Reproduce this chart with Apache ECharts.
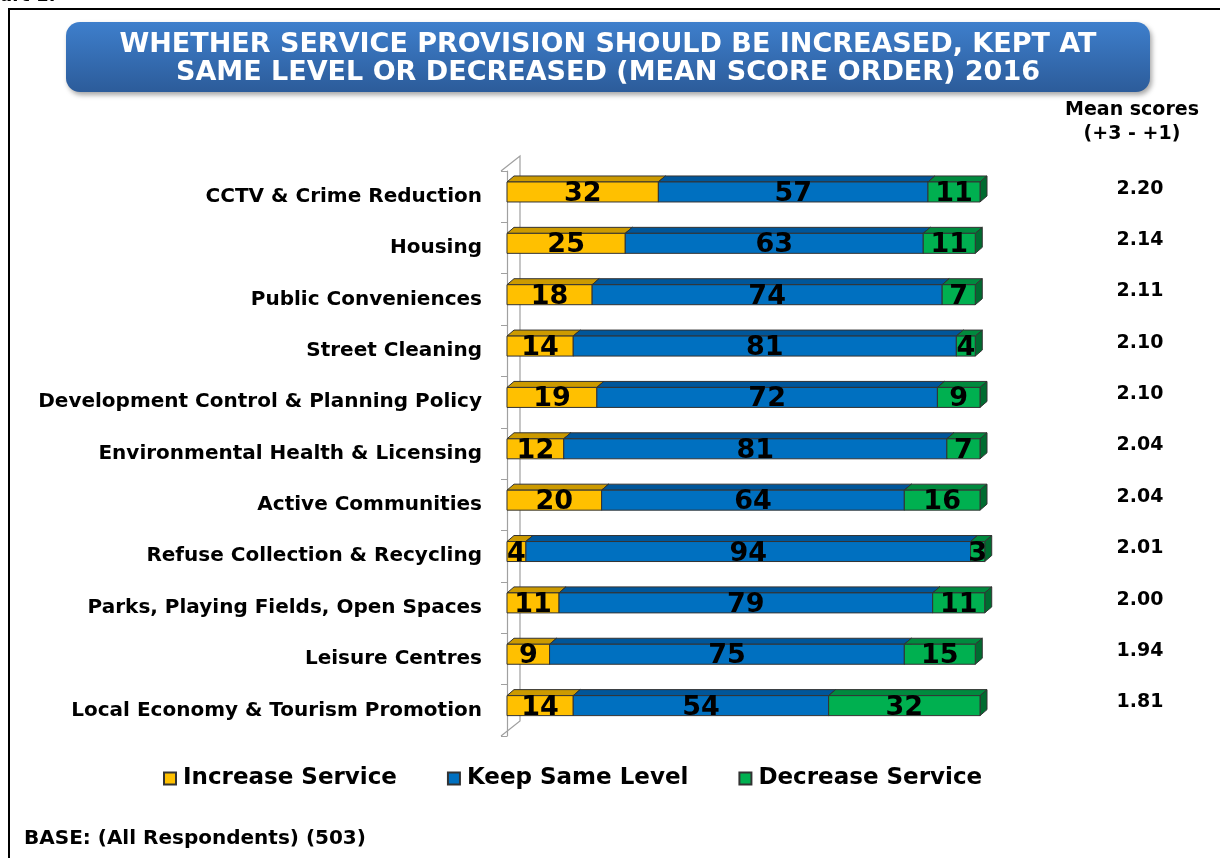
<!DOCTYPE html>
<html>
<head>
<meta charset="utf-8">
<script src="https://cdn.jsdelivr.net/npm/echarts@6/dist/echarts.min.js"></script>
<style>
  html, body { margin: 0; padding: 0; background: #ffffff; }
  #chart { width: 1220px; height: 858px; }
</style>
</head>
<body>
<div id="chart"></div>
<script>
// Services, top to bottom in mean score order
const categories = [
  'CCTV & Crime Reduction',
  'Housing',
  'Public Conveniences',
  'Street Cleaning',
  'Development Control & Planning Policy',
  'Environmental Health & Licensing',
  'Active Communities',
  'Refuse Collection & Recycling',
  'Parks, Playing Fields, Open Spaces',
  'Leisure Centres',
  'Local Economy & Tourism Promotion'
];
// Percentages per response
const increaseService = [32, 25, 18, 14, 19, 12, 20, 4, 11, 9, 14];
const keepSameLevel   = [57, 63, 74, 81, 72, 81, 64, 94, 79, 75, 54];
const decreaseService = [11, 11, 7, 4, 9, 7, 16, 3, 11, 15, 32];
// Mean scores (+3 to +1)
const meanScores = ['2.20', '2.14', '2.11', '2.10', '2.10', '2.04', '2.04', '2.01', '2.00', '1.94', '1.81'];

const seriesNames = ['Increase Service', 'Keep Same Level', 'Decrease Service'];
const seriesValues = [increaseService, keepSameLevel, decreaseService];

// face colours: front, top, side
const palette = [
  { front: '#FFC000', top: '#CC9A00', side: '#A37B00' },
  { front: '#0070C0', top: '#00569A', side: '#004477' },
  { front: '#00B050', top: '#008A3E', side: '#006B30' }
];

const FONT = '"DejaVu Sans", Verdana, sans-serif';
const GRID = { left: 507, top: 171, width: 473, height: 565 };
const WALL_OFFSET = 6;      // front wall line sits left of the bar origin
const DEPTH_X = 7, DEPTH_Y = 6, BAR_H = 20, BAR_LIFT = -4.7;

// stacked [row, start, end, value] tuples for each response
function stackedData(idx) {
  return categories.map((c, row) => {
    let start = 0;
    for (let k = 0; k < idx; k++) start += seriesValues[k][row];
    const v = seriesValues[idx][row];
    return [row, start, start + v, v];
  });
}

function makeRender(idx) {
  const col = palette[idx];
  return function (params, api) {
    const row = api.value(0);
    const p0 = api.coord([api.value(1), row]);
    const p1 = api.coord([api.value(2), row]);
    const cy = p0[1] + BAR_LIFT;
    const x0 = p0[0], x1 = p1[0];
    const yT = cy - BAR_H / 2, yB = cy + BAR_H / 2;
    const stroke = { stroke: '#333333', lineWidth: 1 };
    return {
      type: 'group',
      children: [
        { type: 'polygon', shape: { points: [[x0, yT], [x0 + DEPTH_X, yT - DEPTH_Y], [x1 + DEPTH_X, yT - DEPTH_Y], [x1, yT]] },
          style: Object.assign({ fill: col.top }, stroke) },
        { type: 'polygon', shape: { points: [[x1, yT], [x1 + DEPTH_X, yT - DEPTH_Y], [x1 + DEPTH_X, yB - DEPTH_Y], [x1, yB]] },
          style: Object.assign({ fill: col.side }, stroke) },
        { type: 'rect', shape: { x: x0, y: yT, width: x1 - x0, height: BAR_H },
          style: Object.assign({ fill: col.front }, stroke) },
        { type: 'text', x: (x0 + x1) / 2, y: cy + 2, z2: 10,
          style: { text: String(api.value(3)), fill: '#000', font: 'bold 27px ' + FONT,
                   align: 'center', verticalAlign: 'middle' } }
      ]
    };
  };
}

const chart = echarts.init(document.getElementById('chart'), null, { renderer: 'canvas' });

const wallFrontX = GRID.left - WALL_OFFSET;
const wallBackX = wallFrontX + 19;
const wallTop = GRID.top, wallBottom = GRID.top + GRID.height, wallRise = 15;
const wallStyle = { stroke: '#a0a0a0', lineWidth: 1.2 };

chart.setOption({
  backgroundColor: '#ffffff',
  animation: false,
  grid: { left: GRID.left, top: GRID.top, width: GRID.width, height: GRID.height, containLabel: false },
  xAxis: { type: 'value', min: 0, max: 100, show: false },
  yAxis: [
    {
      type: 'category', data: categories, inverse: true, offset: WALL_OFFSET,
      axisLine: { show: true, lineStyle: { color: '#a0a0a0', width: 1.2 } },
      axisTick: { show: true, length: 6, lineStyle: { color: '#a0a0a0' } },
      axisLabel: { margin: 19, color: '#000', fontFamily: FONT, fontWeight: 'bold', fontSize: 20 }
    },
    {
      type: 'category', data: meanScores, inverse: true, position: 'right',
      axisLine: { show: false }, axisTick: { show: false },
      axisLabel: { margin: 160, align: 'center', verticalAlign: 'bottom', lineHeight: 16,
                   color: '#000', fontFamily: FONT, fontWeight: 'bold', fontSize: 19 }
    }
  ],
  legend: {
    left: 163, top: 767, padding: 0, itemWidth: 12, itemHeight: 12, itemGap: 50, icon: 'rect',
    data: seriesNames,
    textStyle: { color: '#000', fontFamily: FONT, fontWeight: 'bold', fontSize: 23, padding: [0, 0, 0, 2] }
  },
  series: seriesNames.map((name, i) => ({
    name: name,
    type: 'custom',
    xAxisIndex: 0, yAxisIndex: 0,
    encode: { x: [1, 2], y: 0 },
    itemStyle: { color: palette[i].front, borderColor: '#333', borderWidth: 1 },
    renderItem: makeRender(i),
    data: stackedData(i),
    z: 2 + i
  })),
  graphic: [
    // outer frame
    { type: 'rect', shape: { x: 9, y: 9, width: 1240, height: 880 },
      style: { fill: 'none', stroke: '#000', lineWidth: 2 }, z: 1 },
    { type: 'text', left: -26, top: -13, style: { text: 'Chart 1:', font: 'bold 18px ' + FONT, fill: '#000' } },
    // title banner
    { type: 'rect', shape: { x: 66, y: 22, width: 1084, height: 70, r: 14 },
      style: {
        fill: new echarts.graphic.LinearGradient(0, 0, 0, 1, [
          { offset: 0, color: '#3E7FCC' }, { offset: 1, color: '#2C5C9A' }
        ]),
        shadowBlur: 5, shadowOffsetX: 2, shadowOffsetY: 3, shadowColor: 'rgba(0,0,0,0.35)'
      }, z: 5 },
    { type: 'text', x: 608, y: 59, z: 6,
      style: { text: 'WHETHER SERVICE PROVISION SHOULD BE INCREASED, KEPT AT\nSAME LEVEL OR DECREASED (MEAN SCORE ORDER) 2016',
               fill: '#fff', font: 'bold 27px ' + FONT, align: 'center', verticalAlign: 'middle', lineHeight: 28 } },
    // mean score header
    { type: 'text', x: 1132, y: 122, style: { text: 'Mean scores\n(+3 - +1)', fill: '#000', font: 'bold 19px ' + FONT,
      align: 'center', verticalAlign: 'middle', lineHeight: 24 } },
    // back wall of the 3-D plot area
    { type: 'polyline', shape: { points: [[wallFrontX, wallTop], [wallBackX, wallTop - wallRise], [wallBackX, wallBottom - wallRise], [wallFrontX, wallBottom]] },
      style: Object.assign({ fill: 'none' }, wallStyle), z: 0 },
    // base note
    { type: 'text', left: 24, top: 829, style: { text: 'BASE: (All Respondents) (503)', fill: '#000', font: 'bold 20px ' + FONT } }
  ]
});
</script>
</body>
</html>
